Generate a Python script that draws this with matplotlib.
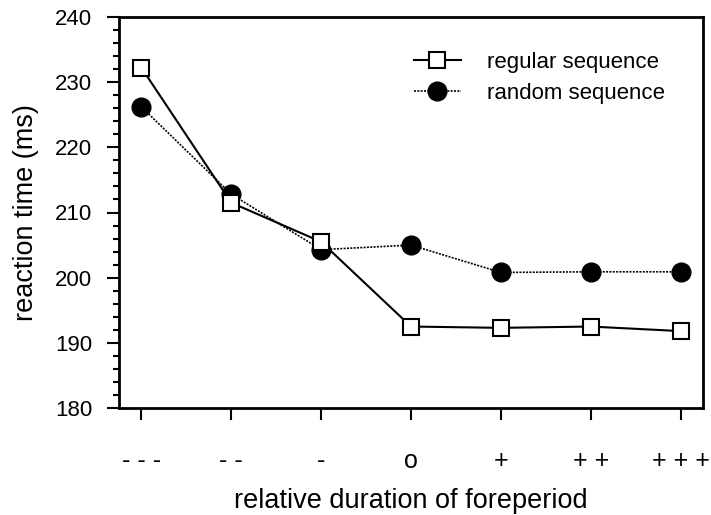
import matplotlib
matplotlib.use("Agg")
import matplotlib.pyplot as plt
from matplotlib.ticker import MultipleLocator

plt.rcParams['font.family'] = ['Liberation Sans', 'DejaVu Sans']

# foreperiod conditions
conditions = ['- - -', '- -', '-', 'o', '+', '+ +', '+ + +']
regular = [232.2, 211.5, 205.5, 192.5, 192.3, 192.5, 191.8]
random_seq = [226.2, 212.8, 204.3, 205.0, 200.8, 200.9, 200.9]

fig = plt.figure(figsize=(7.11, 5.15), dpi=100)
ax = fig.add_axes([119 / 711, 1 - 408 / 515, (703 - 119) / 711, (408 - 17) / 515])

x = list(range(len(conditions)))
ax.plot(x, random_seq, color='black', linestyle=(0, (1.2, 0.8)), linewidth=1.2,
        marker='o', markersize=13.5, markerfacecolor='black', markeredgecolor='black',
        label='random sequence', zorder=2)
ax.plot(x, regular, color='black', linestyle='-', linewidth=1.5,
        marker='s', markersize=11.5, markerfacecolor='white', markeredgecolor='black',
        markeredgewidth=1.5, label='regular sequence', zorder=3)

ax.set_xlim(-0.25, 6.25)
ax.set_ylim(180, 240)
ax.set_xticks(x)
ax.set_xticklabels(conditions)
ax.yaxis.set_major_locator(MultipleLocator(10))
ax.yaxis.set_minor_locator(MultipleLocator(2))

ax.tick_params(axis='both', which='major', direction='out', length=8.6, width=1.5,
               labelsize=16)
ax.tick_params(axis='y', which='minor', direction='out', length=4.3, width=1.5)
ax.tick_params(axis='x', pad=21, labelsize=18)
ax.tick_params(axis='y', pad=10.5)

for s in ax.spines.values():
    s.set_linewidth(2)

ax.set_xlabel('relative duration of foreperiod', fontsize=19.5, labelpad=11)
ax.set_ylabel('reaction time (ms)', fontsize=19.5, labelpad=12)

handles, labels = ax.get_legend_handles_labels()
ax.legend(handles[::-1], labels[::-1], loc='upper left', frameon=False, fontsize=16,
          bbox_to_anchor=(0.505, 0.91), borderpad=0, borderaxespad=0,
          handlelength=2.1, handletextpad=1.2, labelspacing=0.45)

fig.savefig('out.png', dpi=100)
